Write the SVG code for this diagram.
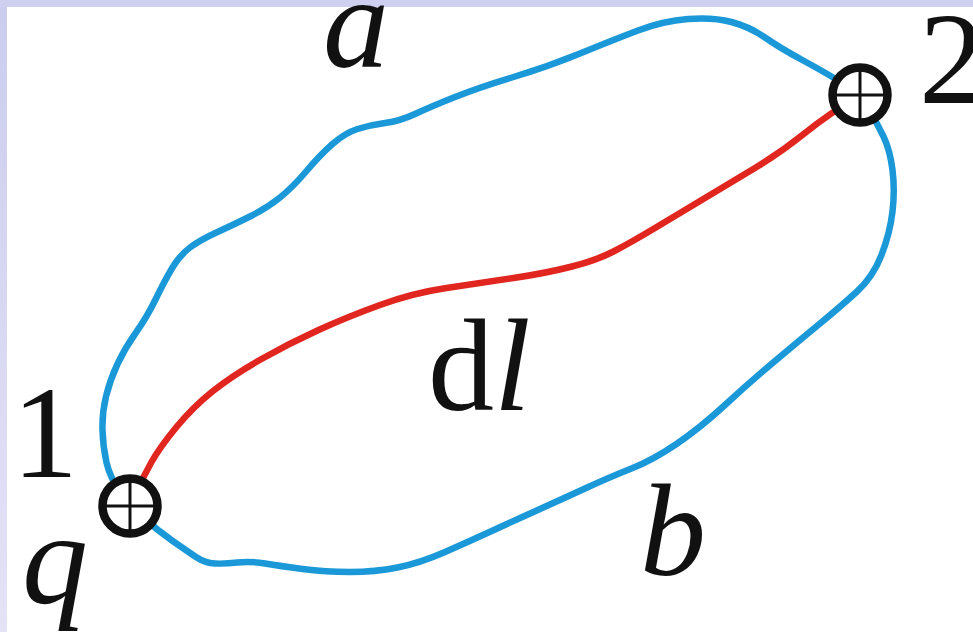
<svg xmlns="http://www.w3.org/2000/svg" width="973" height="632" viewBox="0 0 973 632">
<defs>
<linearGradient id="side" x1="0" y1="0" x2="0" y2="1">
<stop offset="0" stop-color="#cccdee"/>
<stop offset="1" stop-color="#e3e3f6"/>
</linearGradient>
<style>
.lbl{font-family:"Liberation Serif","Times New Roman",Times,serif;font-size:132px;fill:#111;}
.it{font-style:italic;}
.node circle{fill:#fff;stroke:#111;stroke-width:8.5;}
.node line{stroke:#111;stroke-width:3;}
.blue{fill:none;stroke:#1b98d8;stroke-width:6.5;stroke-linejoin:round;}
.red{fill:none;stroke:#e0261f;stroke-width:6.5;stroke-linecap:round;}
</style>
</defs>
<rect x="0" y="0" width="973" height="632" fill="#fff"/>
<rect x="0" y="0" width="7" height="632" fill="url(#side)"/>
<rect x="0" y="0" width="973" height="7" fill="#cfd0ef"/>
<g id="connectors">
<path id="path-ab" class="blue" d="M 144,518 Q 131,506 120.5,492 Q 110,478 106.5,462.5 Q 103,447 102.5,430 Q 102,413 106,396.5 Q 110,380 117.5,364 Q 125,348 136,332.5 Q 147,317 156,298.5 Q 165,280 172.5,267.5 Q 180,255 190,247.5 Q 200,240 217.5,232 Q 235,224 251,216 Q 267,208 280,197.5 Q 293,187 306.5,171 Q 320,155 332.5,144 Q 345,133 357.5,129 Q 370,125 385,123 Q 400,121 415,114 Q 430,107 455,97 Q 480,87 513.5,77 Q 547,67 580,53.5 Q 613,40 638,30.5 Q 663,21 688,19 Q 713,17 731.5,22 Q 750,27 765,37.5 Q 780,48 805,61.5 Q 830,75 845,85 Q 860,95 868.5,109 Q 877,123 883.5,136.5 Q 890,150 892.5,170 Q 895,190 892.5,211.5 Q 890,233 881.5,255 Q 873,277 856.5,292 Q 840,307 820,323.5 Q 800,340 775,361 Q 750,382 725,405 Q 700,428 676.5,444 Q 653,460 631.5,468.5 Q 610,477 585,488.5 Q 560,500 540,509 Q 520,518 495,529.5 Q 470,541 445,552 Q 420,563 397.5,567.5 Q 375,572 350,572 Q 325,572 302.5,569 Q 280,566 265,563.5 Q 250,561 237.5,562.5 Q 225,564 215,563.5 Q 205,563 196,557 Q 187,551 172,540.5 Q 157,530 144,518 Z"/>
<path id="path-dl" class="red" d="M 131,506 L 137,491.5 Q 143,477 151.5,462 Q 160,447 176.5,427 Q 193,407 213,391 Q 233,375 261.5,359 Q 290,343 318.5,330 Q 347,317 380,305 Q 413,293 446.5,288 Q 480,283 513.5,278 Q 547,273 572,266.5 Q 597,260 613.5,251.5 Q 630,243 655,228 Q 680,213 705,198 Q 730,183 755,168 Q 780,153 805,133 Q 830,113 860,95"/>
</g>
<g id="node-1" class="node">
<circle cx="130" cy="506" r="27.5"/>
<line x1="106" y1="506" x2="154" y2="506"/>
<line x1="130" y1="482" x2="130" y2="530"/>
</g>
<g id="node-2" class="node">
<circle cx="860" cy="95" r="27.5"/>
<line x1="836" y1="95" x2="884" y2="95"/>
<line x1="860" y1="71" x2="860" y2="119"/>
</g>
<g id="labels">
<text class="lbl it" x="323" y="67">a</text>
<text class="lbl" x="919" y="103">2</text>
<text class="lbl" x="12" y="477">1</text>
<text class="lbl it" x="22" y="603">q</text>
<text class="lbl it" x="640" y="575">b</text>
<text class="lbl" x="428" y="410">d<tspan class="it">l</tspan></text>
</g>
</svg>
